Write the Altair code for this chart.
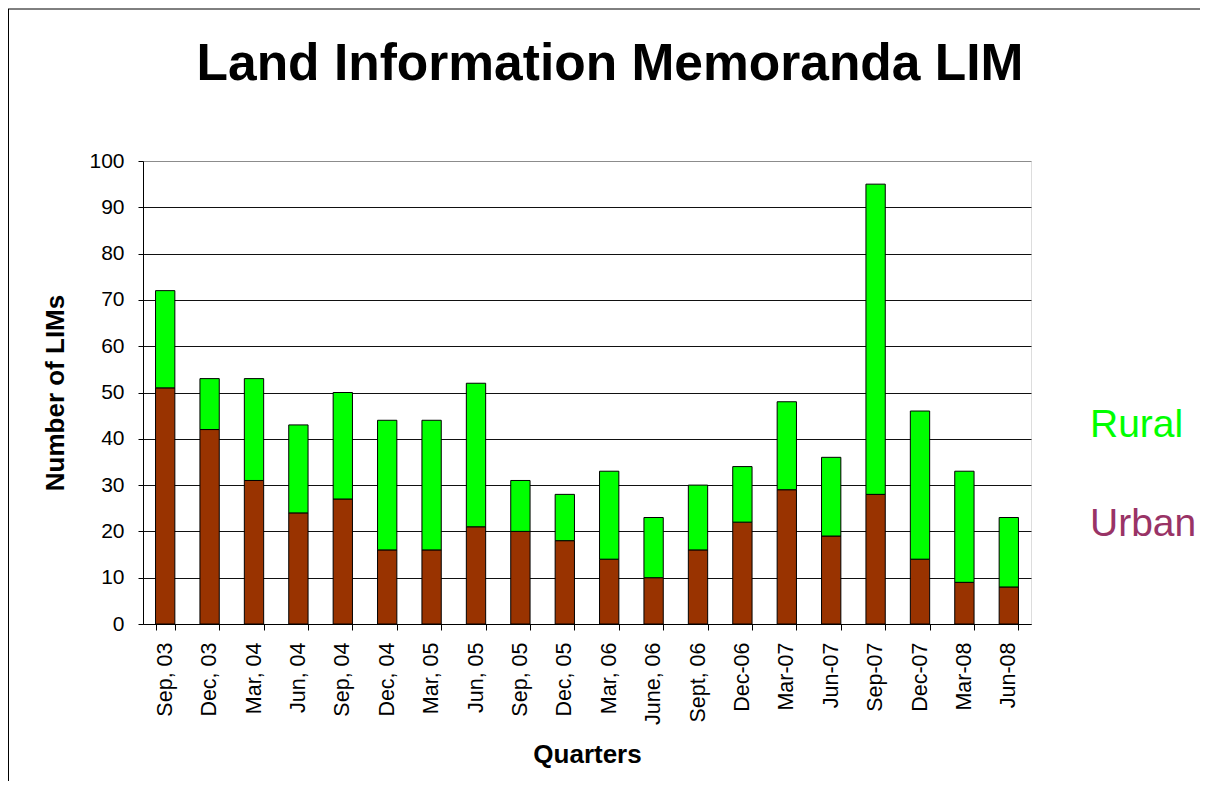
import altair as alt
import pandas as pd

quarters = ["Sep, 03", "Dec, 03", "Mar, 04", "Jun, 04", "Sep, 04", "Dec, 04",
            "Mar, 05", "Jun, 05", "Sep, 05", "Dec, 05", "Mar, 06", "June, 06",
            "Sept, 06", "Dec-06", "Mar-07", "Jun-07", "Sep-07", "Dec-07",
            "Mar-08", "Jun-08"]
urban = [51, 42, 31, 24, 27, 16, 16, 21, 20, 18, 14, 10, 16, 22, 29, 19, 28, 14, 9, 8]
rural = [21, 11, 22, 19, 23, 28, 28, 31, 11, 10, 19, 13, 14, 12, 19, 17, 67, 32, 24, 15]
series = ["Urban", "Rural"]
series_colors = ["#993300", "#00FF00"]
legend_labels = ["Rural", "Urban"]
legend_colors = ["#00FF00", "#993366"]

FONT = "Liberation Sans"

rows = []
for i, q in enumerate(quarters):
    rows.append({"Quarter": q, "Series": "Urban", "Value": urban[i], "ord": 0})
    rows.append({"Quarter": q, "Series": "Rural", "Value": rural[i], "ord": 1})
df = pd.DataFrame(rows)

W, H = 888, 463

bars = alt.Chart(df).mark_bar(stroke="black", strokeWidth=1).encode(
    x=alt.X("Quarter:N", sort=quarters,
            scale=alt.Scale(paddingInner=0.565, paddingOuter=0.2825),
            axis=alt.Axis(title="Quarters", labelAngle=270, labelAlign="right",
                          labelBaseline="middle", labelFont=FONT, labelFontSize=21.5,
                          labelColor="black", labelPadding=12, tickSize=6,
                          tickColor="black", domainColor="black", tickBand="extent",
                          titleFont=FONT, titleFontSize=26, titleFontWeight="bold",
                          titleColor="black", titleBaseline="alphabetic",
                          titleX=W / 2, titleY=138, grid=False)),
    y=alt.Y("Value:Q", stack="zero",
            scale=alt.Scale(domain=[0, 100], nice=False),
            axis=alt.Axis(title="Number of LIMs", values=list(range(0, 101, 10)),
                          labelFont=FONT, labelFontSize=21, labelColor="black",
                          labelPadding=14, tickSize=5, tickColor="black",
                          domainColor="black",
                          gridColor={"condition": {"test": "datum.value == 100", "value": "#8c8c8c"},
                                     "value": "#111111"},
                          titleFont=FONT, titleFontSize=26, titleFontWeight="bold",
                          titleColor="black", titleBaseline="alphabetic",
                          titleX=-80, titleY=H / 2, titleAngle=270)),
    color=alt.Color("Series:N", scale=alt.Scale(domain=series, range=series_colors), legend=None),
    order=alt.Order("ord:Q"),
)

leg_df = pd.DataFrame({"label": legend_labels, "color": legend_colors})
legend_text = alt.Chart(leg_df).mark_text(font=FONT, fontSize=39, align="left",
                                           baseline="alphabetic").encode(
    text="label:N",
    x=alt.value(947),
    y=alt.Y("label:N", scale=alt.Scale(domain=legend_labels, range=[276, 375], padding=0),
            axis=None),
    color=alt.Color("color:N", scale=None),
)

frame_df = pd.DataFrame({"k": [0]})
top_border = alt.Chart(frame_df).mark_rule(color="black", strokeWidth=1).encode(
    x=alt.value(-135), x2=alt.value(1060), y=alt.value(-152))
left_border = alt.Chart(frame_df).mark_rule(color="black", strokeWidth=1).encode(
    x=alt.value(-134.5), y=alt.value(-152), y2=alt.value(620))

chart = alt.layer(bars, legend_text, top_border, left_border).properties(
    width=W, height=H,
    title=alt.TitleParams("Land Information Memoranda LIM", font=FONT, fontSize=51.5,
                          fontWeight="bold", color="black", anchor="middle",
                          dx=23, offset=0, dy=123, baseline="alphabetic"),
    autosize=alt.AutoSizeParams(type="none"),
    padding={"left": 135, "top": 153, "right": 169, "bottom": 158},
).resolve_scale(y="independent", color="independent").configure_view(
    stroke="#8c8c8c", strokeWidth=1
).configure(background="white")

chart.save("out.html", embed_options={"renderer": "svg", "actions": False})
